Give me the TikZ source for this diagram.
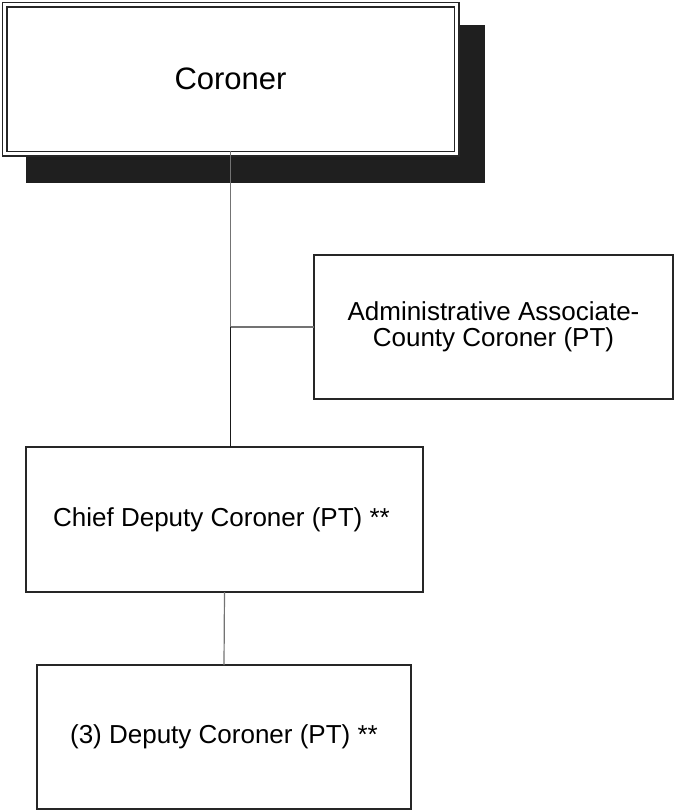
\documentclass[tikz,border=0pt]{standalone}
\usepackage{fontspec}
\setmainfont{Liberation Sans}
\begin{document}
\begin{tikzpicture}[x=1pt,y=-1pt,
  box/.style={draw=black!85,line width=1.4pt,fill=white,inner sep=0pt,outer sep=0pt,align=center,font=\fontsize{26}{26}\selectfont},
  conn/.style={line width=1.2pt,draw=black!55},
  conndark/.style={line width=1.5pt,draw=black!90}]
\useasboundingbox (0,0) rectangle (675,811);
% shadow
\fill[black!88] (26,25) rectangle (485,183);
% Coroner
\node[box,double=white,double distance=2.6pt,line width=1.7pt,minimum width=452pt,minimum height=149pt,font=\fontsize{31}{34}\selectfont] (coroner) at (230.5,79) {Coroner};
\node[box,minimum width=359pt,minimum height=144pt] (admin) at (493.5,327) {Administrative Associate-\\County Coroner (PT)};
\node[box,minimum width=397pt,minimum height=145pt] (chief) at (224.5,519.5) {};
\node[font=\fontsize{26}{26}\selectfont] (chieftext) at ([xshift=-3pt]chief.center) {Chief Deputy Coroner (PT) **};
\node[box,minimum width=374pt,minimum height=144pt] (deputy) at (224,737) {(3) Deputy Coroner (PT) **};
\coordinate (junc) at (coroner.south |- admin.west);
\draw[conn] ([yshift=3pt]coroner.south) -- (junc) -- (admin.west);
\draw[conndark] (junc) -- (junc |- chief.north);
\draw[conn] (chief.south) -- (deputy.north);
\end{tikzpicture}
\end{document}
